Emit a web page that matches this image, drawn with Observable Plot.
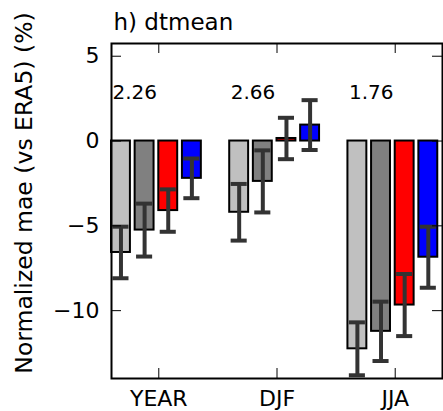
<!DOCTYPE html>
<html>
<head>
<meta charset="utf-8">
<script src="https://cdn.jsdelivr.net/npm/d3@7"></script>
<script src="https://cdn.jsdelivr.net/npm/@observablehq/plot@0.6"></script>
<style>
  html, body { margin: 0; padding: 0; background: white; }
  svg { display: block; }
</style>
</head>
<body>
<div id="chart"></div>
<script>
// ---- data ----
const seasons = ["YEAR", "DJF", "JJA"];
const seriesNames = ["s1", "s2", "s3", "s4"];
const seriesColors = ["#c0c0c0", "#808080", "#ff0000", "#0000ff"];
const valuesS1 = [-6.57, -4.20, -12.25];
const valuesS2 = [-5.25, -2.38, -11.22];
const valuesS3 = [-4.10, 0.15, -9.67];
const valuesS4 = [-2.20, 0.94, -6.85];
const errorsS1 = [1.52, 1.67, 1.56];
const errorsS2 = [1.56, 1.83, 1.75];
const errorsS3 = [1.25, 1.22, 1.83];
const errorsS4 = [1.17, 1.47, 1.80];
const groupLabels = ["2.26", "2.66", "1.76"];
const yTicks = [5, 0, -5, -10];
const titleText = "h) dtmean";
const yLabelText = "Normalized mae (vs ERA5) (%)";

// ---- build table ----
const allValues = [valuesS1, valuesS2, valuesS3, valuesS4];
const allErrors = [errorsS1, errorsS2, errorsS3, errorsS4];
const barWidth = 0.16, barStep = 0.2, groupStart = -0.4, capHalf = 0.068;
const rows = [];
seriesNames.forEach((s, si) => {
  seasons.forEach((season, gi) => {
    const left = gi + groupStart + si * barStep;
    rows.push({
      series: s, season, gi, si,
      x1: left, x2: left + barWidth, xc: left + barWidth / 2,
      value: allValues[si][gi], err: allErrors[si][gi],
      color: seriesColors[si]
    });
  });
});
const labelRows = seasons.map((s, gi) => ({x: gi + groupStart, text: groupLabels[gi]}));

const W = 443, H = 411;
const mL = 111, mR = 1, mT = 43, mB = 33;
const fw = W - mL - mR, fh = H - mT - mB;
const tickLen = 10;
const minus = d => d < 0 ? "\u2212" + Math.abs(d) : String(d);

const chart = Plot.plot({
  width: W, height: H,
  marginLeft: mL, marginRight: mR, marginTop: mT, marginBottom: mB,
  style: {fontFamily: "DejaVu Sans", fontSize: "22px", background: "white", overflow: "visible", color: "black"},
  x: {type: "linear", domain: [-0.4, 2.4], axis: null},
  y: {domain: [-14, 5.75], axis: null},
  marks: [
    Plot.rectY(rows, {x1: "x1", x2: "x2", y1: 0, y2: "value", fill: "color", stroke: "black", strokeWidth: 2}),
    Plot.ruleX(rows, {x: "xc", y1: d => d.value - d.err, y2: d => d.value + d.err, stroke: "#333", strokeWidth: 4}),
    Plot.ruleY(rows, {y: d => d.value - d.err, x1: d => d.xc - capHalf, x2: d => d.xc + capHalf, stroke: "#333", strokeWidth: 4}),
    Plot.ruleY(rows, {y: d => d.value + d.err, x1: d => d.xc - capHalf, x2: d => d.xc + capHalf, stroke: "#333", strokeWidth: 4}),
    // inward ticks
    Plot.tickY(yTicks, {y: d => d, insetRight: fw - tickLen, stroke: "black", strokeWidth: 1}),
    Plot.tickY(yTicks, {y: d => d, insetLeft: fw - tickLen, stroke: "black", strokeWidth: 1}),
    Plot.tickX([0, 1, 2], {x: d => d, insetBottom: fh - tickLen, stroke: "black", strokeWidth: 1}),
    Plot.tickX([0, 1, 2], {x: d => d, insetTop: fh - tickLen, stroke: "black", strokeWidth: 1}),
    Plot.frame({stroke: "black", strokeWidth: 2}),
    Plot.axisY(yTicks, {tickSize: 0, tickPadding: 12, fontSize: 22, tickFormat: minus, label: null}),
    Plot.axisX([0, 1, 2], {tickSize: 0, tickPadding: 12, fontSize: 22, tickFormat: i => seasons[i], label: null}),
    Plot.text(labelRows, {x: "x", text: "text", frameAnchor: "top", textAnchor: "start", lineAnchor: "middle", dy: 48.6, dx: 1, fontSize: 20, fill: "black"}),
    Plot.text([titleText], {text: d => d, frameAnchor: "top-left", textAnchor: "start", lineAnchor: "middle", dx: 2, dy: -21, fontSize: 23, fill: "black"}),
    Plot.text([yLabelText], {text: d => d, frameAnchor: "left", rotate: -90, textAnchor: "middle", lineAnchor: "middle", dx: -87, dy: -18, fontSize: 23.5, fill: "black"})
  ]
});
document.getElementById("chart").appendChild(chart);
</script>
</body>
</html>
